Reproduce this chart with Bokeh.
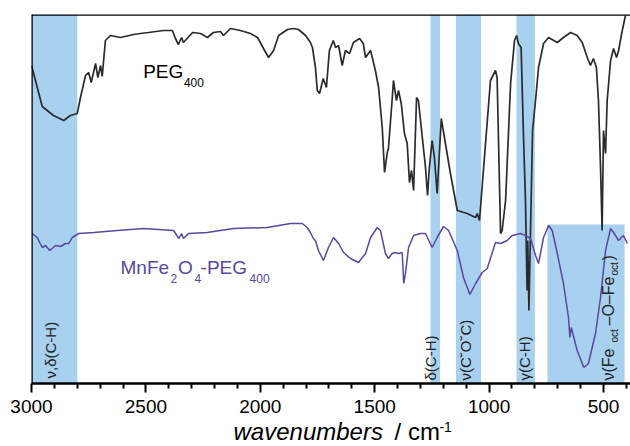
from bokeh.plotting import figure
from bokeh.models import Range1d, FixedTicker, Label, Span
from bokeh.layouts import column
from bokeh.embed import file_html
from bokeh.resources import INLINE

# ---------------- data ----------------
peg_wn = [3000, 2953, 2904, 2859, 2830, 2800, 2786, 2764, 2750, 2739, 2720, 2710, 2698, 2691,
          2677, 2655, 2611, 2554, 2524, 2489, 2423, 2384, 2371, 2358, 2344, 2336, 2296, 2261,
          2231, 2205, 2174, 2161, 2130, 2087, 2043, 2012, 1986, 1964, 1942, 1920, 1881, 1855,
          1833, 1802, 1781, 1772, 1759, 1751, 1741, 1725, 1711, 1698, 1681, 1671, 1658, 1642,
          1628, 1610, 1593, 1566, 1550, 1540, 1518, 1497, 1483, 1467, 1457, 1445, 1440, 1424,
          1418, 1405, 1396, 1384, 1370, 1358, 1348, 1339, 1330, 1317, 1309, 1278, 1269, 1261,
          1249, 1239, 1227, 1209, 1169, 1139, 1096, 1059, 1052, 1042, 1030, 994, 972, 965,
          953, 950, 943, 928, 906, 889, 880, 872, 860, 850, 841, 834, 831, 826, 819, 810,
          797, 784, 762, 740, 702, 675, 644, 615, 593, 571, 557, 544, 531, 522, 513, 506,
          500, 491, 484, 469, 456, 443, 434, 418, 404]
peg_t = [318, 277, 268, 263, 268, 270, 286, 308, 311, 301, 320, 306, 318, 307,
         343, 348, 346, 349, 350, 351, 353, 353, 345, 339, 346, 341, 351, 350,
         346, 351, 352, 348, 355, 353, 350, 346, 335, 326, 333, 348, 354, 355,
         354, 348, 341, 336, 316, 293, 290, 305, 296, 333, 343, 336, 338, 318,
         333, 330, 341, 345, 340, 326, 333, 313, 296, 256, 211, 231, 235, 283,
         303, 283, 293, 280, 250, 240, 201, 213, 193, 286, 283, 216, 188, 216,
         243, 226, 190, 265, 210, 173, 170, 166, 170, 163, 198, 303, 313, 306,
         183, 150, 153, 183, 300, 343, 348, 340, 336, 250, 183, 93, 143, 73, 153, 253,
         283, 316, 340, 346, 341, 346, 351, 348, 341, 326, 318, 325, 316, 283, 216, 153,
         253, 230, 283, 323, 335, 326, 333, 353, 368]

mnfe_wn = [2997, 2975, 2953, 2939, 2920, 2895, 2873, 2851, 2837, 2822, 2793, 2728, 2625, 2510,
           2379, 2356, 2344, 2336, 2314, 2232, 2117, 1970, 1868, 1817, 1795, 1781, 1768, 1759,
           1746, 1724, 1702, 1680, 1658, 1636, 1606, 1571, 1540, 1518, 1489, 1475, 1453, 1440,
           1424, 1409, 1396, 1380, 1373, 1365, 1352, 1330, 1300, 1278, 1249, 1227, 1199, 1177,
           1139, 1112, 1084, 1059, 1030, 1008, 986, 972, 950, 921, 899, 863, 841, 819,
           797, 784, 762, 740, 724, 702, 675, 653, 647, 641, 615, 586, 566, 535,
           513, 491, 469, 456, 434, 413, 396]
mnfe_t = [150, 146, 136, 138, 133, 138, 137, 140, 140, 146, 150, 151, 153, 155,
          153, 145, 150, 145, 150, 151, 155, 156, 160, 160, 156, 151, 145, 143,
          133, 123, 136, 146, 140, 131, 125, 121, 130, 146, 156, 153, 130, 125,
          130, 131, 130, 131, 100, 111, 136, 148, 150, 150, 136, 146, 157, 153,
          133, 106, 89, 100, 111, 115, 131, 141, 140, 143, 148, 150, 148, 145,
          128, 120, 146, 158, 153, 130, 100, 66, 46, 56, 33, 16, 20, 50,
          86, 133, 155, 151, 143, 148, 140]

band_hi = [3000, 1256, 1145, 880, 745]
band_lo = [2800, 1214, 1035, 800, 408]
band_top = [369, 369, 369, 369, 159]

major_ticks = [3000, 2500, 2000, 1500, 1000, 500]
minor_ticks = [2900, 2800, 2700, 2600, 2400, 2300, 2200, 2100, 1900, 1800, 1700, 1600,
               1400, 1300, 1200, 1100, 900, 800, 700, 600, 400]

X_START, X_END = 3000, 382
Y_START, Y_END = 0, 369

BAND = "#a8d0ef"
PURPLE = "#5a47a1"
DARK = "#2b2b2b"
TXT = "#222222"
FONT = "Liberation Sans"
V = 1.5707963

xr = Range1d(X_START, X_END)

p = figure(width=630, height=421, output_backend="svg", toolbar_location=None,
           x_range=xr, y_range=Range1d(Y_START, Y_END),
           min_border_left=31, min_border_right=0, min_border_top=14, min_border_bottom=38)
p.title.visible = False
p.outline_line_color = None
p.grid.visible = False
p.yaxis.visible = False
p.background_fill_color = "white"
p.border_fill_color = "white"

# absorption bands
p.quad(left=band_hi, right=band_lo, bottom=Y_START, top=band_top,
       fill_color=BAND, line_color=None)

# spectra
p.line(peg_wn, peg_t, line_color=DARK, line_width=1.7)
p.line(mnfe_wn, mnfe_t, line_color=PURPLE, line_width=1.5)

# frame lines top / left
p.add_layout(Span(location=Y_END, dimension="width", line_color="black", line_width=2.5))
p.add_layout(Span(location=X_START, dimension="height", line_color="black", line_width=2.5))

# x axis
ax = p.xaxis[0]
ax.ticker = FixedTicker(ticks=major_ticks, minor_ticks=minor_ticks)
ax.axis_line_width = 2.5
ax.axis_line_color = "black"
ax.major_tick_line_width = 2
ax.minor_tick_line_width = 2
ax.major_tick_in = 0
ax.major_tick_out = 9
ax.minor_tick_in = 0
ax.minor_tick_out = 5
ax.major_label_text_font = FONT
ax.major_label_text_font_size = "19px"
ax.major_label_text_color = "black"
ax.major_label_standoff = 7


def lab(fig, text, x, y, size, color="black", angle=0.0, style="normal"):
    fig.add_layout(Label(x=x, y=y, text=text, text_font=FONT, text_font_size=f"{size}px",
                         text_color=color, angle=angle, text_font_style=style,
                         text_align="left", text_baseline="middle"))


# series labels (y = vertical middle of the text)
lab(p, "PEG", 2512, 311.6, 19)
lab(p, "400", 2334, 301.2, 12)
lab(p, "MnFe", 2611, 115.6, 19, PURPLE)
lab(p, "2", 2392, 105.2, 12, PURPLE)
lab(p, "O", 2360, 115.6, 19, PURPLE)
lab(p, "4", 2288, 105.2, 12, PURPLE)
lab(p, "-PEG", 2261, 115.6, 19, PURPLE)
lab(p, "400", 2047, 105.2, 12, PURPLE)

# band labels (vertical, x = middle of the rotated text)
lab(p, "ν,δ(C-H)", 2916, 5, 15, TXT, V)
lab(p, "δ(C-H)", 1255, 3, 15, TXT, V)
lab(p, "ν(C˘O˘C)", 1102, 3, 15, TXT, V)
lab(p, "γ(C-H)", 846, 3, 15, TXT, V)
lab(p, "ν(Fe", 476, 3, 16, TXT, V)
lab(p, "oct", 454, 41, 10, TXT, V)
lab(p, "–O–Fe", 476, 58, 16, TXT, V)
lab(p, "oct", 454, 108, 10, TXT, V)
lab(p, ")", 476, 123, 16, TXT, V)

# axis title strip below the axis
t = figure(width=630, height=25, output_backend="svg", toolbar_location=None,
           x_range=xr, y_range=Range1d(0, 25), x_axis_location=None, y_axis_location=None,
           min_border_left=31, min_border_right=0, min_border_top=0, min_border_bottom=0)
t.title = None
t.outline_line_color = None
t.grid.visible = False
t.background_fill_color = "white"
t.border_fill_color = "white"
lab(t, "wavenumbers", 2117, 15.3, 24, style="italic")
lab(t, "/ cm", 1413, 15.3, 24)
lab(t, "-1", 1217, 19.9, 14)

layout = column(p, t, spacing=0)
open("out.html", "w").write(file_html(layout, INLINE))
